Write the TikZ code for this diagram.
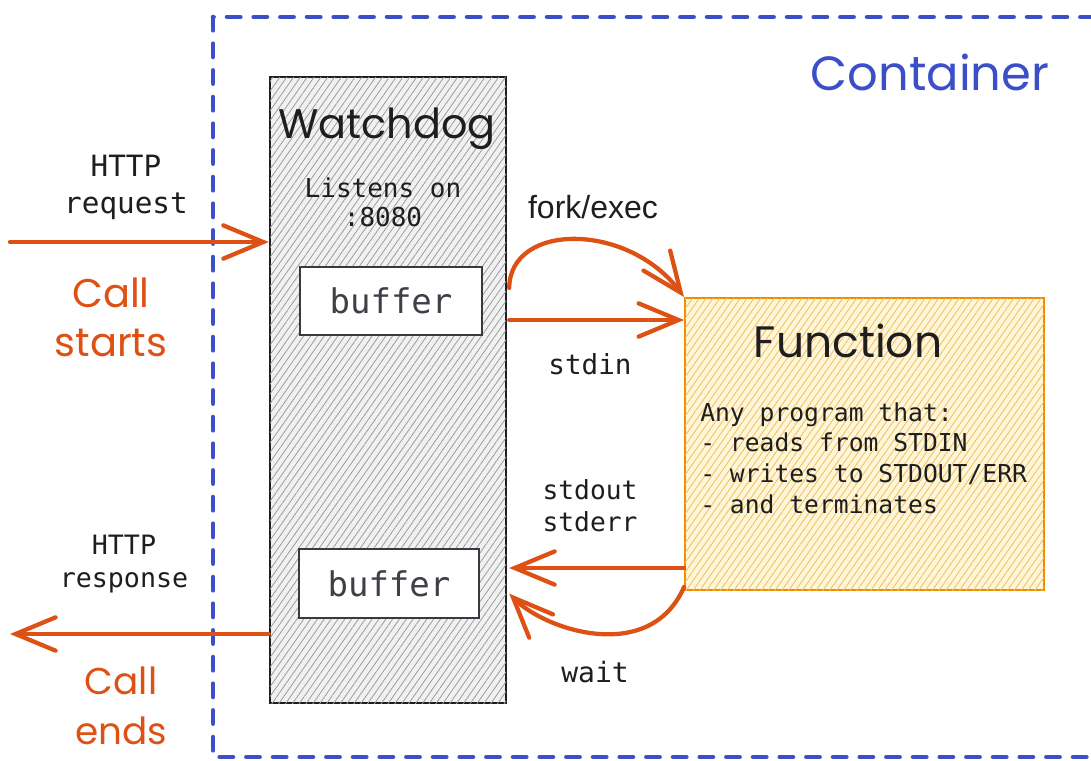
\documentclass[tikz,border=0pt]{standalone}
\usepackage{fontspec}
\usetikzlibrary{arrows.meta,patterns.meta}

\newfontfamily\handfont{Poppins}
\newfontfamily\codefont{DejaVu Sans Mono}
\newfontfamily\plainsans{Liberation Sans}

\definecolor{boxblue}{HTML}{3B4FC8}
\definecolor{flow}{HTML}{DD5214}
\definecolor{ink}{HTML}{1E1E1E}
\definecolor{bufink}{HTML}{3D4147}
\definecolor{wdfill}{HTML}{F1F1F1}
\definecolor{wdhatch}{HTML}{9C9C9C}
\definecolor{fnfill}{HTML}{FFF6DA}
\definecolor{fnhatch}{HTML}{F0BE58}
\definecolor{fnedge}{HTML}{F08C00}

\begin{document}
\begin{tikzpicture}[
  x=0.75pt, y=-0.75pt,
  container/.style={draw=boxblue, line width=3.4pt, line cap=round,
    dash pattern=on 10pt off 10pt},
  wdbox/.style={draw=ink, line width=1.8pt, fill=wdfill,
    postaction={pattern={Lines[angle=55,distance=4.2pt,line width=0.6pt]}, pattern color=wdhatch}},
  bufbox/.style={draw=bufink!90!black, line width=1.9pt, fill=white,
    text=bufink, font=\codefont\fontsize{25.5}{28}\selectfont},
  fnbox/.style={draw=fnedge, line width=1.4pt, fill=fnfill,
    postaction={pattern={Lines[angle=55,distance=4.2pt,line width=0.6pt]}, pattern color=fnhatch}},
  flowarrow/.style={draw=flow, line width=3.2pt, line cap=round,
    -{Straight Barb[length=30pt,width=25pt,line cap=round]}},
  hand/.style={inner sep=0pt, text=ink},
  code/.style={inner sep=0pt, text=ink, align=center},
]
\clip (0,0) rectangle (1091,760);
\fill[white] (0,0) rectangle (1091,760);

% container outline and title
\draw[container] (213,17) rectangle (1140,757);
\node[hand, text=boxblue, font=\handfont\fontsize{36}{40}\selectfont] (ctitle) at (930,72) {Container};

% watchdog process
\node[wdbox, minimum width=177pt, minimum height=469.5pt, inner sep=0pt] (wd) at (388,390) {};
\node[hand, font=\handfont\fontsize{31}{36}\selectfont] (wdtitle) at (387,129) {Watchdog};
\node[code, font=\codefont\fontsize{19.5}{21.5}\selectfont] (listen) at (383,202) {Listens on\\:8080};
\node[bufbox, minimum width=136.5pt, minimum height=51pt, inner sep=0pt] (bufin) at (391,301) {buffer};
\node[bufbox, minimum width=135pt, minimum height=51.75pt, inner sep=0pt] (bufout) at (389,583.5) {buffer};

% function process
\node[fnbox, minimum width=269.25pt, minimum height=219pt, inner sep=0pt] (fn) at (864.5,444) {};
\node[hand, font=\handfont\fontsize{33}{38}\selectfont] (fntitle) at (848,341) {Function};
\node[code, align=left, anchor=west, font=\codefont\fontsize{18.5}{22.9}\selectfont] (fntext) at (700,458)
  {Any program that:\\- reads from STDIN\\- writes to STDOUT/ERR\\- and terminates};

% request / response side
\coordinate (reqstart) at (10,242);
\coordinate (respend) at (10,634);
\draw[flowarrow] (reqstart) -- (reqstart -| wd.west);
\draw[flowarrow] (respend -| wd.west) -- (respend);
\node[code, font=\codefont\fontsize{22}{27.75}\selectfont] (req) at (126,187) {HTTP\\request};
\node[code, font=\codefont\fontsize{20}{24.5}\selectfont] (resp) at (124,564) {HTTP\\response};
\node[hand, text=flow, align=center, font=\handfont\fontsize{30}{36.75}\selectfont] (cstart) at (111,317) {Call\\starts};
\node[hand, text=flow, align=center, font=\handfont\fontsize{28}{37}\selectfont] (cend) at (121,706) {Call\\ends};

% watchdog <-> function
\coordinate (yfork) at (0,288);
\coordinate (yin) at (0,320);
\coordinate (yout) at (0,568);
\draw[flowarrow] ([xshift=1.5pt]wd.east |- yfork) .. controls (510,222) and (628,222) .. (fn.north west);
\draw[flowarrow] ([xshift=1.5pt]wd.east |- yin) -- (fn.west |- yin);
\draw[flowarrow] (fn.west |- yout) -- ([xshift=1.5pt]wd.east |- yout);
\draw[flowarrow] ([yshift=3pt]fn.south west) .. controls (650,665) and (545,630) .. ([xshift=1.5pt,yshift=-2pt]wd.east |- fn.south);

\node[inner sep=0pt, text=ink, font=\plainsans\fontsize{24}{28}\selectfont] (forklbl) at (593,207) {fork/exec};
\node[code, font=\codefont\fontsize{20.7}{24}\selectfont] (stdinlbl) at (590,364) {stdin};
\node[code, font=\codefont\fontsize{19.7}{24}\selectfont] (stdoutlbl) at (590,506) {stdout\\stderr};
\node[code, font=\codefont\fontsize{21}{24}\selectfont] (waitlbl) at (595,672) {wait};
\end{tikzpicture}
\end{document}
